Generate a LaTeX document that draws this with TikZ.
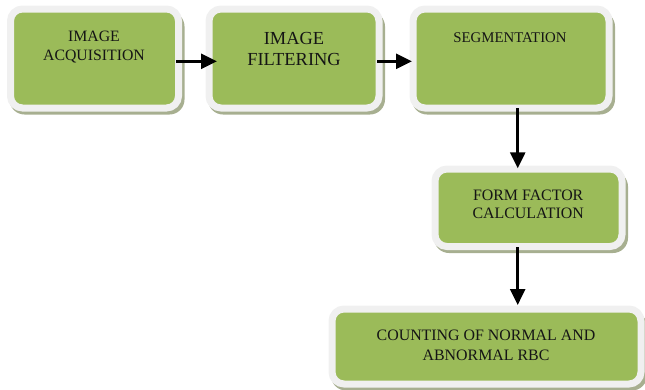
\documentclass[tikz,border=0pt]{standalone}
\usepackage{fontspec}
\setmainfont{Liberation Serif}
\usetikzlibrary{arrows.meta,backgrounds}
\definecolor{boxgreen}{HTML}{9BBB59}
\definecolor{framecol}{HTML}{F0F0F0}
\definecolor{shadowcol}{HTML}{A7AF90}
\definecolor{txtcol}{HTML}{151515}
\tikzset{
  stagebox/.style={rectangle, draw=framecol, fill=boxgreen, line width=7pt,
    rounded corners=12pt, outer sep=0pt, inner sep=0pt},
  lbl/.style={anchor=base, inner sep=0pt, text=txtcol},
  flow/.style={line width=2.7pt, -{Triangle[length=16pt,width=15pt]}}
}
\newcommand{\boxshadow}[1]{%
  \fill[shadowcol, rounded corners=15pt]
    ([shift={(-1,2.5)}]#1.north west) rectangle ([shift={(6,6.5)}]#1.south east);}
\begin{document}
\begin{tikzpicture}[x=1pt,y=-1pt]
\useasboundingbox (0,0) rectangle (645,389);
% boxes
\node[stagebox, minimum width=168pt, minimum height=99pt] (b1) at (94.5,58.5) {};
\node[stagebox, minimum width=170pt, minimum height=99pt] (b2) at (294,58.5) {};
\node[stagebox, minimum width=196pt, minimum height=99pt] (b3) at (511,58.5) {};
\node[stagebox, minimum width=187pt, minimum height=77.5pt] (b4) at (528.5,207.75) {};
\node[stagebox, minimum width=309pt, minimum height=75pt] (b5) at (486.5,346.5) {};
\begin{scope}[on background layer]
  \boxshadow{b1}\boxshadow{b2}\boxshadow{b3}\boxshadow{b4}\boxshadow{b5}
\end{scope}
% texts
\node[lbl, font=\fontsize{15.8}{19}\selectfont] (t1a) at (94,41.7) {IMAGE};
\node[lbl, font=\fontsize{15.8}{19}\selectfont] (t1b) at (94,60) {ACQUISITION};
\node[lbl, font=\fontsize{18.4}{22}\selectfont] (t2a) at (294,44.3) {IMAGE};
\node[lbl, font=\fontsize{18.4}{22}\selectfont] (t2b) at (294,65) {FILTERING};
\node[lbl, font=\fontsize{14.8}{18}\selectfont] (t3) at (510,42.3) {SEGMENTATION};
\node[lbl, font=\fontsize{15.9}{19}\selectfont] (t4a) at (528.2,200.7) {FORM FACTOR};
\node[lbl, font=\fontsize{15.9}{19}\selectfont] (t4b) at (528.2,218.3) {CALCULATION};
\node[lbl, font=\fontsize{15.9}{19}\selectfont] (t5a) at (486,340.7) {COUNTING OF NORMAL AND};
\node[lbl, font=\fontsize{15.9}{19}\selectfont] (t5b) at (486,360) {ABNORMAL RBC};
% arrows
\coordinate (ax) at (517.7,0);
\coordinate (ay) at (0,61.3);
\draw[flow, shorten <=-2.5pt, shorten >=-8pt] (b1.east |- ay) -- (b2.west |- ay);
\draw[flow, shorten <=-2pt, shorten >=1pt] (b2.east |- ay) -- (b3.west |- ay);
\draw[flow, shorten <=0pt, shorten >=0.7pt] (b3.south -| ax) -- (b4.north -| ax);
\draw[flow, shorten <=0.5pt, shorten >=4pt] (b4.south -| ax) -- (b5.north -| ax);
\end{tikzpicture}
\end{document}
